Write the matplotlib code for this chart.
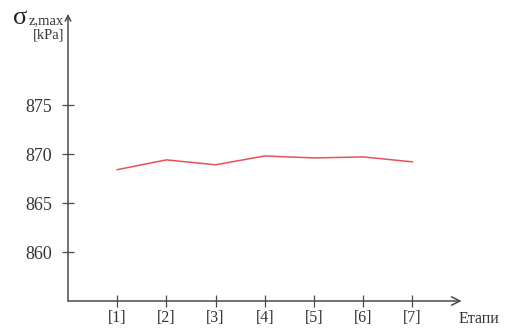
import matplotlib
matplotlib.use("Agg")
import matplotlib.pyplot as plt

# -- data --
stages = [1, 2, 3, 4, 5, 6, 7]
stage_labels = ["[1]", "[2]", "[3]", "[4]", "[5]", "[6]", "[7]"]
sigma_max = [868.4, 869.4, 868.9, 869.8, 869.6, 869.7, 869.2]
y_ticks = [860, 865, 870, 875]

plt.rcParams["font.family"] = ["Liberation Serif", "DejaVu Serif"]

W, H = 511, 328
fig = plt.figure(figsize=(W / 100, H / 100), dpi=100)
fig.patch.set_facecolor("white")

px_x, px_y = 49.2, 9.8  # pixels per unit
x0, y0 = 68, 301
xmax, ymin, ymax = 8.1, 855, 884.6
ax = fig.add_axes([x0 / W, (H - y0) / H, xmax * px_x / W, (ymax - ymin) * px_y / H])
ax.set_xlim(0, xmax)
ax.set_ylim(ymin, ymax)
for s in ax.spines.values():
    s.set_visible(False)

axis_col = "#4a4a4a"
# axes with arrows
ax.annotate("", xy=(8.0, ymin), xytext=(0, ymin),
            arrowprops=dict(arrowstyle="->", color=axis_col, lw=1.1,
                            mutation_scale=15, shrinkA=0, shrinkB=0),
            annotation_clip=False)
ax.annotate("", xy=(0, 884.3), xytext=(0, ymin),
            arrowprops=dict(arrowstyle="->", color=axis_col, lw=1.1,
                            mutation_scale=10, shrinkA=0, shrinkB=0),
            annotation_clip=False)

ax.plot(stages, sigma_max, color="#e8505a", lw=1.1)

ax.set_xticks(stages)
ax.set_xticklabels(stage_labels)
ax.set_yticks(y_ticks)
ax.tick_params(axis="both", direction="inout", length=9, width=0.9,
               color=axis_col, labelcolor="#333333", labelsize=13)
ax.tick_params(axis="x", pad=2, labelsize=11.5)
ax.tick_params(axis="y", pad=7)

fig.text(13 / W, 1 - 24 / H, "σ", fontsize=19, color="#222222", va="baseline", ha="left")
fig.text(29 / W, 1 - 24 / H, "z,max", fontsize=10.5, color="#333333", va="baseline", ha="left")
fig.text(64 / W, 1 - 35 / H, "[kPa]", fontsize=10.5, color="#333333", va="center", ha="right")
fig.text(459 / W, 1 - 319 / H, "Етапи", fontsize=11.5, color="#333333", va="center", ha="left")

fig.savefig("out.png", dpi=100)
